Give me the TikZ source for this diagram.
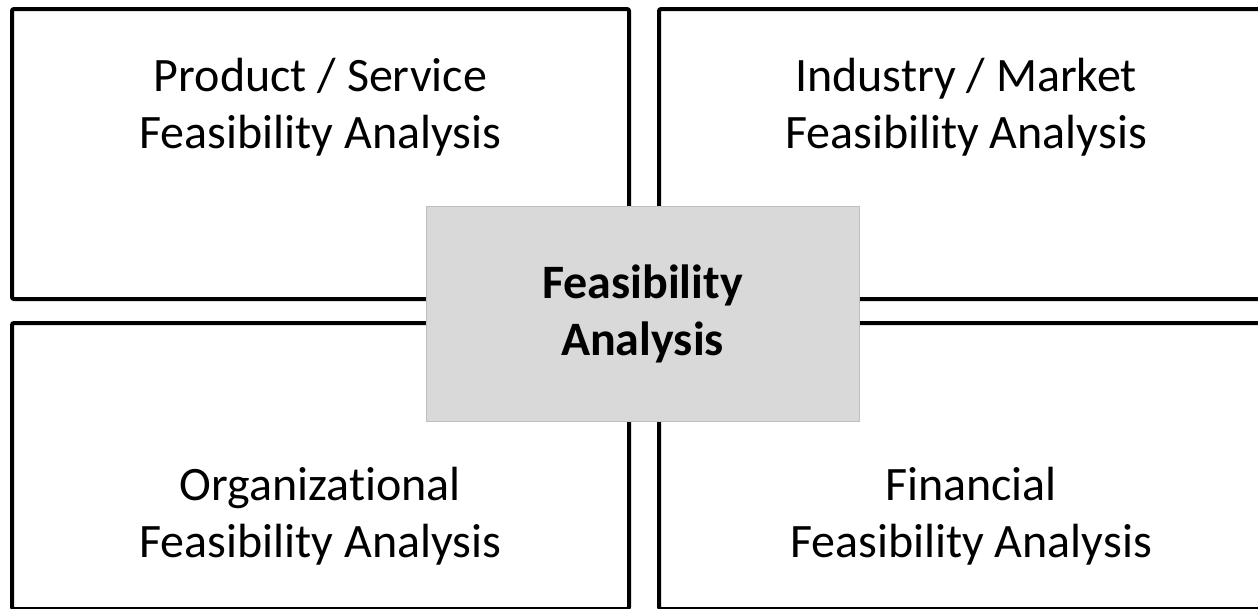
\documentclass[tikz,border=0pt]{standalone}
\usepackage{fontspec}
\setmainfont{Carlito}[Ligatures=NoCommon]
\tikzstyle{frame}=[line width=3pt, rounded corners=1.5pt]
\tikzstyle{caption}=[align=center, inner sep=0pt, anchor=base, font=\fontsize{36}{42.75}\selectfont]
\tikzstyle{core}=[draw=gray!50, fill=gray!30, line width=.75pt, minimum width=324.75pt, minimum height=161.25pt, align=center, font=\fontsize{36}{42.75}\selectfont\bfseries]
\begin{document}
\begin{tikzpicture}[x=.75pt,y=-.75pt]
    \useasboundingbox (0,0) rectangle (1258,608);
    \clip (0,0) rectangle (1258,608);

    % Quadrants
    \draw[frame] (12,9) rectangle (629,299);
    \draw[frame] (659,9) rectangle (1274,299);
    \draw[frame] (12,323) rectangle (629,609);
    \draw[frame] (659,323) rectangle (1274,609);

    % Labels
    \draw (320.5,148) node[caption] (prod) {Product / Service\\Feasibility Analysis};
    \draw (966,148) node[caption] (ind) {Industry / Market\\Feasibility Analysis};
    \draw (320.5,557) node[caption] (org) {Organizational\\Feasibility Analysis};
    \draw (971,557) node[caption] (fin) {Financial\\Feasibility Analysis};

    % Centre
    \draw (642.5,313.5) node[core] (feas) {Feasibility\\Analysis};
\end{tikzpicture}
\end{document}
